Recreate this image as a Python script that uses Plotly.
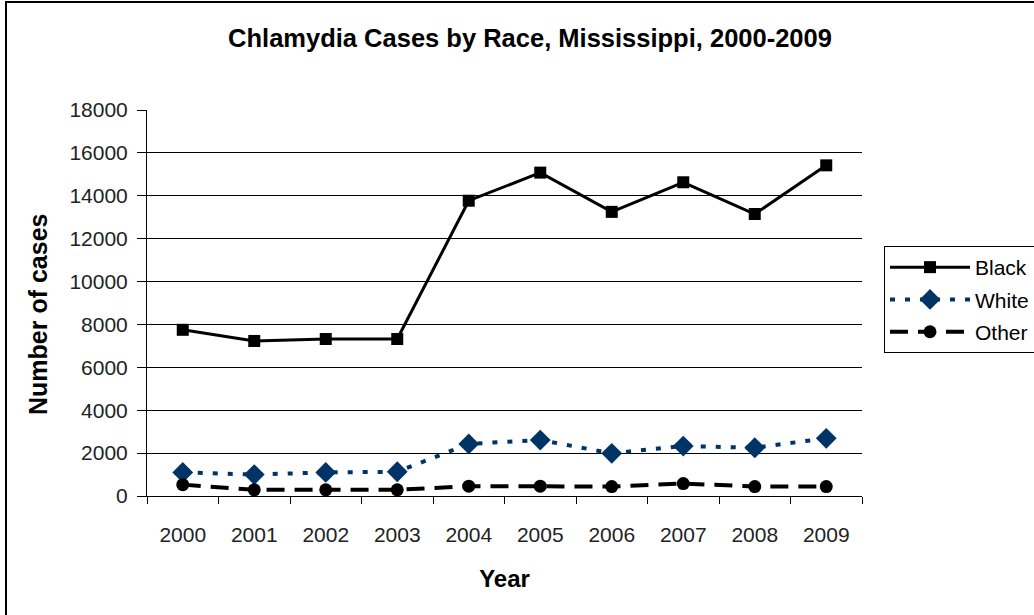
import plotly.graph_objects as go

years = ["2000", "2001", "2002", "2003", "2004", "2005", "2006", "2007", "2008", "2009"]
black = [7750, 7230, 7320, 7320, 13770, 15080, 13250, 14630, 13150, 15420]
white = [1100, 1000, 1100, 1130, 2430, 2610, 1990, 2330, 2250, 2690]
other = [530, 290, 290, 290, 460, 460, 440, 580, 440, 440]

FONT = "Liberation Sans"

fig = go.Figure()
fig.add_trace(go.Scatter(x=years, y=black, name="Black", mode="lines+markers", legendgroup="a",
                         line=dict(color="black", width=3),
                         marker=dict(symbol="square", size=12, color="black")))
fig.add_trace(go.Scatter(x=years, y=white, name="White", mode="lines+markers", legendgroup="b",
                         line=dict(color="#003366", width=4, dash="5px,10px"),
                         marker=dict(symbol="diamond", size=16, color="#003366")))
fig.add_trace(go.Scatter(x=years, y=other, name="Other", mode="lines+markers", legendgroup="c",
                         line=dict(color="black", width=4, dash="18px,10px"),
                         marker=dict(symbol="circle", size=13, color="black")))

L, R, T, B = 147, 172, 110, 119
W, H = 1034, 615
pw, ph = W - L - R, H - T - B

def px(x):
    return (x - L) / pw

def py(y):
    return (H - B - y) / ph

fig.update_layout(
    width=W, height=H,
    margin=dict(l=L, r=R, t=T, b=B, autoexpand=False),
    paper_bgcolor="white", plot_bgcolor="white",
    font=dict(family=FONT, size=20, color="black"),
    title=dict(text="<b>Chlamydia Cases by Race, Mississippi, 2000-2009</b>",
               x=530 / W, xanchor="center", y=1 - 38 / H, yanchor="middle",
               font=dict(size=25.5, family=FONT, color="black")),
    showlegend=True,
    legend=dict(x=px(884), xanchor="left", y=py(246), yanchor="top",
                bordercolor="black", borderwidth=1, bgcolor="white",
                font=dict(size=21, family=FONT, color="black"), tracegroupgap=2, itemwidth=80),
    xaxis=dict(type="category", range=[-0.5, 9.5], showgrid=False,
               showline=True, linecolor="black", linewidth=1,
               ticks="outside", tickson="boundaries", ticklen=7, tickcolor="black",
               ticklabelstandoff=20,
               title=dict(text="<b>Year</b>", font=dict(size=24, color="black"), standoff=24),
               tickfont=dict(size=21, color="#222")),
    yaxis=dict(range=[0, 18000], dtick=2000, tickformat="d", showgrid=True, gridcolor="black", gridwidth=1,
               showline=True, linecolor="black", linewidth=1,
               ticks="outside", ticklen=9, tickcolor="black", zeroline=False,
               ticklabelstandoff=5,
               tickfont=dict(size=21, color="#222")),
    annotations=[dict(text="<b>Number of cases</b>", textangle=-90, xref="paper", yref="paper",
                      x=px(38), y=py(315), xanchor="center", yanchor="middle", showarrow=False,
                      font=dict(size=25, family=FONT, color="black"))],
    shapes=[dict(type="rect", xref="paper", yref="paper",
                 x0=px(6), x1=px(W + 20), y0=py(H + 20), y1=py(2),
                 line=dict(color="black", width=2), fillcolor="rgba(0,0,0,0)", layer="below")],
)

fig.write_html("out.html", config={"displayModeBar": False},
               post_script="document.body.style.margin='0';document.body.style.overflow='hidden';")
